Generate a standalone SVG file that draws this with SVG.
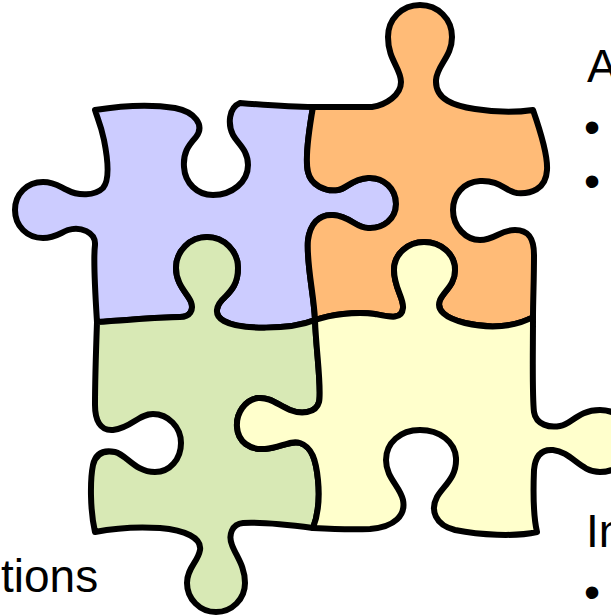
<svg xmlns="http://www.w3.org/2000/svg" width="611" height="616" viewBox="0 0 611 616">
<style>
.piece{stroke:#000;stroke-width:6;stroke-linejoin:round;stroke-linecap:round}
.txt{font-family:"Liberation Sans",Arial,sans-serif;font-size:46px;fill:#000}
</style>
<rect width="611" height="616" fill="#fff"/>
<g id="piece-blue">
<path class="piece" fill="#CCCCFF" d="M95,110 C120,106 150,104 175,108 C195,112 205,125 196,137 C188,146 183,153 184,167 C185,183 197,195 213,195 C232,195 248,182 248,165 C248,150 238,144 233,135 C228,125 228,108 240,103 C265,105 290,107 313,107
C309,130 305,160 308,172 C311,185 325,192 338,190 C346,189 352,179 368,178 C384,177 396,189 396,204 C396,219 383,229 368,228 C356,228 350,216 333,215 C318,214 310,225 308,240 C306,262 314,295 315,320
C290,330 240,330 224,321 C213,315 216,305 225,297 C232,290 238,283 238,268 C238,251 224,237 207,237 C190,237 176,251 176,268 C176,285 188,294 191,302 C194,310 190,317 180,317 C160,317 130,320 97,322
C95,290 93,260 95,245 C96,232 80,226 68,230 C60,233 55,238 43,238 C27,238 15,226 15,210 C15,194 27,182 43,182 C55,182 60,187 67,190 C78,196 95,196 103,188 C110,180 108,160 104,140 C101,125 97,117 95,110 Z"/>
</g>
<g id="piece-orange">
<path class="piece" fill="#FFBB77" d="M313,107 L372,107 C386,105 401,95 401,82 C401,68 388,60 388,37 C388,19 402,5 420,5 C438,5 452,19 452,37 C452,57 437,65 436,80 C435,100 455,106 475,109 C500,113 520,112 533,110
C540,130 548,155 547,170 C546,190 530,194 517,193 C505,191 500,180 480,181 C463,182 453,195 453,210 C453,227 466,240 480,240 C495,240 500,230 515,230 C530,230 534,240 534,255 C534,280 533,300 533,317
C515,327 490,329 465,323 C445,318 436,310 440,300 C444,291 455,285 455,270 C455,254 441,242 424,242 C408,242 394,254 394,270 C394,288 404,298 403,308 C402,320 390,317 375,314 C355,311 330,315 315,320
C314,295 306,262 308,240 C310,225 318,214 333,215 C350,216 356,228 368,228 C383,229 396,219 396,204 C396,189 384,177 368,178 C352,179 346,189 338,190 C325,192 311,185 308,172 C305,160 309,130 313,107 Z"/>
</g>
<g id="piece-green">
<path class="piece" fill="#D8E9B5" d="M97,322 C130,320 160,317 180,317 C190,317 194,310 191,302 C188,294 176,285 176,268 C176,251 190,237 207,237 C224,237 238,251 238,268 C238,283 232,290 225,297 C216,305 213,315 224,321 C240,330 290,330 315,320
C316,350 322,390 319,402 C316,414 300,414 290,410 C278,405 270,397 258,398 C245,400 236,413 237,427 C238,442 250,450 265,449 C280,448 290,440 300,443 C312,447 316,460 318,480 C320,500 318,515 313,528
C290,525 260,522 243,523 C232,524 228,535 232,545 C236,556 245,566 245,583 C245,599 232,612 216,612 C200,612 187,599 187,583 C187,568 198,562 200,550 C202,538 185,530 160,528 C130,526 110,529 95,532
C90,510 90,480 93,465 C96,452 105,450 115,452 C127,455 135,472 155,472 C170,472 181,459 181,443 C181,427 168,414 153,414 C138,414 132,428 113,430 C100,431 95,420 95,405 C95,380 96,350 97,322 Z"/>
</g>
<g id="piece-yellow">
<path class="piece" fill="#FFFFCC" d="M315,320 C330,315 355,311 375,314 C390,317 402,320 403,308 C404,298 394,288 394,270 C394,254 408,242 424,242 C441,242 455,254 455,270 C455,285 444,291 440,300 C436,310 445,318 465,323 C490,329 515,327 533,317
C533,350 532,395 534,412 C536,425 550,428 560,426 C572,424 578,410 600,410 C618,410 632,424 632,441 C632,458 618,472 600,472 C580,472 572,452 553,450 C540,449 535,458 534,470 C533,495 533,515 537,532
C515,537 480,535 455,530 C435,525 430,510 437,497 C443,486 457,478 456,458 C455,442 440,430 420,430 C400,430 386,443 386,460 C386,478 400,486 403,500 C406,515 395,527 370,529 C350,530 330,529 313,528
C318,515 320,500 318,480 C316,460 312,447 300,443 C290,440 280,448 265,449 C250,450 238,442 237,427 C236,413 245,400 258,398 C270,397 278,405 290,410 C300,414 316,414 319,402 C322,390 316,350 315,320 Z"/>
</g>
<g id="text-right-top">
<text class="txt" x="587" y="82">A</text>
<text class="txt" x="584" y="143">•</text>
<text class="txt" x="584" y="197">•</text>
</g>
<g id="text-right-bottom">
<text class="txt" x="586" y="547">In</text>
<text class="txt" x="584" y="608">•</text>
</g>
<g id="text-left-bottom">
<text class="txt" x="1" y="592">tions</text>
</g>
</svg>
